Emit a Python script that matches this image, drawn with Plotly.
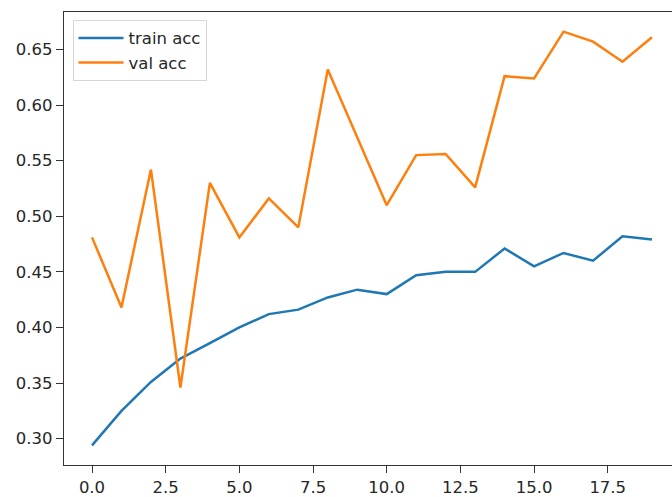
import plotly.graph_objects as go

# Per-epoch accuracy history
epochs = list(range(20))
train_acc = [0.294, 0.325, 0.351, 0.372, 0.386, 0.400, 0.412, 0.416, 0.427, 0.434,
             0.430, 0.447, 0.450, 0.450, 0.471, 0.455, 0.467, 0.460, 0.482, 0.479]
val_acc = [0.481, 0.418, 0.542, 0.346, 0.530, 0.481, 0.516, 0.490, 0.632, 0.571,
           0.510, 0.555, 0.556, 0.526, 0.626, 0.624, 0.666, 0.657, 0.639, 0.661]

x_tick_vals = [0, 2.5, 5, 7.5, 10, 12.5, 15, 17.5]
x_tick_text = ["0.0", "2.5", "5.0", "7.5", "10.0", "12.5", "15.0", "17.5"]
y_tick_vals = [0.30, 0.35, 0.40, 0.45, 0.50, 0.55, 0.60, 0.65]

FONT = "DejaVu Sans"
TICK_FONT = dict(family=FONT, size=16.5, color="#262626")

fig = go.Figure()
fig.add_trace(go.Scatter(x=epochs, y=train_acc, mode="lines", name="train acc",
                         line=dict(color="#1f77b4", width=2.5)))
fig.add_trace(go.Scatter(x=epochs, y=val_acc, mode="lines", name="val acc",
                         line=dict(color="#ff7f0e", width=2.5)))

fig.update_layout(
    width=672, height=497,
    margin=dict(l=64, r=0, t=12, b=26),
    paper_bgcolor="white", plot_bgcolor="white",
    font=TICK_FONT,
    showlegend=True,
    legend=dict(x=0.014, y=0.983, xanchor="left", yanchor="top",
                bgcolor="white", bordercolor="#d6d6d6", borderwidth=1,
                font=dict(family=FONT, size=16.5, color="#262626"),
                itemwidth=45),
    xaxis=dict(range=[-0.95, 19.68], tickvals=x_tick_vals, ticktext=x_tick_text,
               showgrid=False, zeroline=False, showline=True, mirror=True,
               linecolor="#333333", linewidth=1.3, ticks="outside", ticklen=7,
               tickwidth=1.3, tickcolor="#333333", tickfont=TICK_FONT),
    yaxis=dict(range=[0.2763, 0.6837], tickvals=y_tick_vals, tickformat=".2f",
               showgrid=False, zeroline=False, showline=True, mirror=False,
               linecolor="#333333", linewidth=1.3, ticks="outside", ticklen=7,
               tickwidth=1.3, tickcolor="#333333", tickfont=TICK_FONT),
)

fig.write_html("out.html")
